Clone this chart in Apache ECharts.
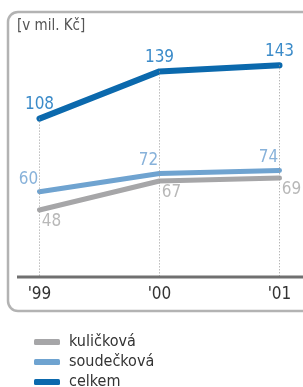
<!DOCTYPE html>
<html><head><meta charset="utf-8">
<script src="https://cdn.jsdelivr.net/npm/echarts@6/dist/echarts.min.js"></script>
<style>html,body{margin:0;padding:0;background:#fff}#c{width:303px;height:387px}</style>
</head><body><div id="c"></div>
<script>
const categories = ["'99", "'00", "'01"];
const kulickova = [48, 67, 69];
const soudeckova = [60, 72, 74];
const celkem = [108, 139, 143];
const seriesNames = ['kuličková', 'soudečková', 'celkem'];
const unitLabel = '[v mil. Kč]';

const FONT = "'Liberation Sans Narrow','DejaVu Sans Condensed',sans-serif";
const YMIN = 4;
const chart = echarts.init(document.getElementById('c'));
chart.setOption({
  animation: false,
  graphic: [
    {type:'rect', z:0, shape:{x:8,y:12,width:320,height:299,r:10}, style:{fill:'none',stroke:'#b3b3b3',lineWidth:2.5}},
    {type:'line', z:10, shape:{x1:17,y1:277,x2:303,y2:277}, style:{stroke:'#707070',lineWidth:3}},
    {type:'text', left:17, top:19, style:{text:unitLabel, fill:'#555', font:'15px '+FONT}}
  ],
  grid: {left:39.5, right:23.5, top:39.4, bottom:110},
  legend: {
    orient:'vertical', left:34, top:334, height:60, padding:0, itemWidth:26, itemHeight:6, itemGap:4,
    icon:'roundRect',
    data: seriesNames,
    textStyle:{fontFamily:FONT, fontSize:16, color:'#333', lineHeight:16, padding:[0,0,0,4]}
  },
  xAxis: {
    type:'category', data:categories, boundaryGap:false,
    axisLine:{show:false}, axisTick:{show:false},
    axisLabel:{margin:9, fontFamily:FONT, fontSize:17, color:'#333'}
  },
  yAxis: {type:'value', min:YMIN, max:160, show:false},
  series: [
    {name:seriesNames[0], type:'line', data:kulickova, symbol:'circle', symbolSize:0.1, showSymbol:true,
     lineStyle:{color:'#a6a6a8', width:5, cap:'round'}, itemStyle:{color:'#a6a6a8'},
     label:{show:true, position:'bottom', distance:3, offset:[12,0], fontFamily:FONT, fontSize:17, color:'#b8b8b8'}},
    {name:seriesNames[1], type:'line', data:soudeckova, symbol:'circle', symbolSize:0.1, showSymbol:true,
     lineStyle:{color:'#6fa3d0', width:5, cap:'round'}, itemStyle:{color:'#6fa3d0'},
     label:{show:true, position:'top', distance:4, offset:[-11,0], fontFamily:FONT, fontSize:17, color:'#88b2da'}},
    {name:seriesNames[2], type:'line', data:celkem, symbol:'circle', symbolSize:0.1, showSymbol:true,
     lineStyle:{color:'#0b69ad', width:6, cap:'round'}, itemStyle:{color:'#0b69ad'},
     label:{show:true, position:'top', distance:5, fontFamily:FONT, fontSize:17, color:'#3b8bc9'},
     markLine:{silent:true, symbol:'none', label:{show:false},
       lineStyle:{color:'#9a9a9a', type:[1,2], width:1},
       data: celkem.map((v,i)=>[{xAxis:i, yAxis:v},{xAxis:i, yAxis:YMIN}])}}
  ]
});
</script></body></html>
